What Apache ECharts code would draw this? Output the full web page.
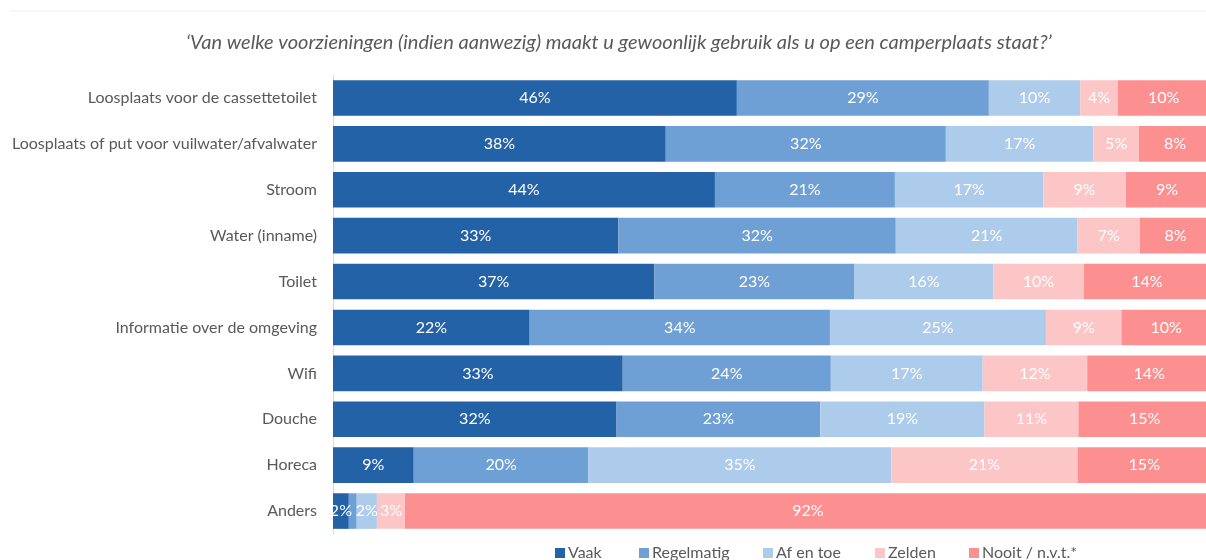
<!DOCTYPE html>
<html>
<head>
<meta charset="utf-8">
<script src="https://cdn.jsdelivr.net/npm/echarts@6/dist/echarts.min.js"></script>
<style>
html,body{margin:0;padding:0;background:#fff;overflow:hidden;}
#c{width:1211px;height:560px;}
</style>
</head>
<body>
<div id="c"></div>
<script>
const title = "‘Van welke voorzieningen (indien aanwezig) maakt u gewoonlijk gebruik als u op een camperplaats staat?’";
const categories = [
  "Loosplaats voor de cassettetoilet",
  "Loosplaats of put voor vuilwater/afvalwater",
  "Stroom",
  "Water (inname)",
  "Toilet",
  "Informatie over de omgeving",
  "Wifi",
  "Douche",
  "Horeca",
  "Anders"
];
const seriesNames = ["Vaak", "Regelmatig", "Af en toe", "Zelden", "Nooit / n.v.t.*"];
const vaak       = [46.0, 37.9, 43.5, 32.5, 36.6, 22.4, 33.0, 32.3, 9.2, 1.8];
const regelmatig = [28.7, 31.9, 20.5, 31.6, 22.8, 34.2, 23.7, 23.2, 19.9, 0.9];
const afEnToe    = [10.4, 16.8, 16.9, 20.7, 15.8, 24.6, 17.3, 18.7, 34.5, 2.3];
const zelden     = [4.3, 5.2, 9.4, 7.1, 10.3, 8.6, 11.9, 10.7, 21.2, 3.2];
const nooit      = [10.4, 8.2, 9.4, 8.1, 14.4, 10.2, 14.1, 15.1, 15.2, 91.8];
const colors = ["#2462A8", "#6EA0D5", "#ADCBEA", "#FDC6C6", "#FC8F8F"];
const legendLefts = [555, 639, 763, 875, 969];

const allValues = [vaak, regelmatig, afEnToe, zelden, nooit];
const chart = echarts.init(document.getElementById('c'));
chart.setOption({
  animation: false,
  textStyle: { fontFamily: 'Lato' },
  title: {
    text: title, left: 181, top: 28,
    textStyle: { fontFamily: 'Lato', fontStyle: 'italic', fontWeight: 'normal', fontSize: 20, color: '#595959' }
  },
  graphic: [{ type: 'line', shape: { x1: 10, y1: 11, x2: 1211, y2: 11 }, style: { stroke: '#EFEFEF', lineWidth: 1 } }],
  legend: seriesNames.map((n, i) => ({
    data: [n], left: legendLefts[i], top: 545, padding: 0, icon: 'rect', itemWidth: 10, itemHeight: 10,
    textStyle: { fontFamily: 'Lato', fontSize: 16, color: '#595959', padding: [0,0,0,-2] }
  })),
  grid: { left: 333, top: 75, right: 0, height: 459 },
  xAxis: { type: 'value', min: 0, max: 100, show: false },
  yAxis: {
    type: 'category', data: categories, inverse: true,
    axisLine: { show: true, lineStyle: { color: '#D9D9D9' } },
    axisTick: { show: false },
    axisLabel: { margin: 16, fontSize: 16, color: '#595959', fontFamily: 'Lato' }
  },
  series: seriesNames.map((n, i) => ({
    name: n, type: 'bar', stack: 'total', data: allValues[i],
    barCategoryGap: '22.5%',
    itemStyle: { color: colors[i] },
    label: {
      show: true, position: 'inside', color: '#fff', fontSize: 16, fontFamily: 'Lato',
      formatter: p => p.value < 1.5 ? '' : Math.round(p.value) + '%'
    }
  }))
});
</script>
</body>
</html>
